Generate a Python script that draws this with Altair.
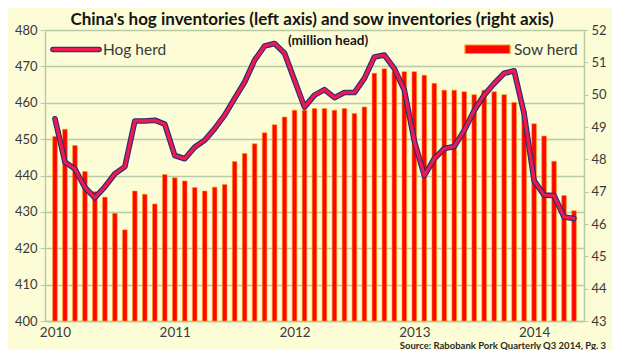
import altair as alt
import pandas as pd

years = ["2010", "2011", "2012", "2013", "2014"]

# Monthly values, Jan 2010 .. May 2014
hog = [455.6, 443.7, 441.8, 436.7, 433.9, 436.9, 440.5, 442.4, 455.0, 455.0, 455.2, 454.1,
       445.5, 444.6, 447.8, 449.7, 452.9, 456.6, 461.2, 465.7, 471.7, 475.6, 476.3, 473.6,
       466.2, 458.8, 462.1, 463.6, 461.4, 462.8, 462.8, 466.7, 472.6, 473.1, 469.4, 463.5,
       449.5, 440.0, 444.6, 447.4, 448.0, 452.4, 457.9, 462.1, 465.3, 468.1, 468.8, 457.0,
       438.6, 434.6, 434.5, 428.6, 428.2]
sow = [48.71, 48.93, 48.43, 47.62, 47.00, 46.83, 46.33, 45.82, 47.02, 46.92, 46.62, 47.53,
       47.43, 47.33, 47.13, 47.02, 47.14, 47.22, 47.93, 48.18, 48.48, 48.82, 49.07, 49.31,
       49.52, 49.52, 49.57, 49.57, 49.52, 49.57, 49.42, 49.62, 50.66, 50.80, 50.71, 50.71,
       50.71, 50.60, 50.35, 50.14, 50.14, 50.09, 50.00, 50.14, 50.09, 50.00, 49.76, 49.50,
       49.10, 48.72, 47.94, 46.88, 46.41]

n = len(hog)
months = [f"{2010 + k // 12}-{k % 12 + 1:02d}" for k in range(n)]
df = pd.DataFrame({"month": months, "pos": [k + 0.5 for k in range(n)], "hog": hog, "sow": sow})

W, H = 539, 291
FONT = "Lato"
GRID = "#b7cca6"
TXT = "#3a3a3a"
BG = "#fcfcd6"

xenc = alt.X("pos:Q", scale=alt.Scale(domain=[0, n], nice=False, zero=False),
             axis=alt.Axis(values=[0.5, 12.5, 24.5, 36.5, 48.5],
                           labelExpr="'' + (2010 + floor(datum.value / 12))",
                           grid=False, ticks=False, domainColor=GRID, domainWidth=1.5,
                           labelPadding=4, labelFontSize=13.5, labelOverlap=False, title=None))

bars = alt.Chart(df).mark_bar(width=4.6, fill="#ff0400", stroke="#ff9a00", strokeWidth=0.6).encode(
    x=xenc,
    y=alt.Y("sow:Q", scale=alt.Scale(domain=[43, 52], nice=False, zero=False),
            axis=alt.Axis(orient="right", values=list(range(43, 53)), grid=False,
                          tickSize=4, tickColor=GRID, domainColor=GRID, domainWidth=1.5,
                          labelPadding=3, labelOverlap=False, title=None)),
    y2=alt.datum(43),
)

hog_y = alt.Y("hog:Q", scale=alt.Scale(domain=[400, 480], nice=False, zero=False),
              axis=alt.Axis(orient="left", values=list(range(400, 481, 10)), grid=True,
                            gridColor=GRID, gridWidth=1.5, tickSize=5, tickColor=GRID,
                            domainColor=GRID, domainWidth=1.5, labelPadding=3,
                            labelOverlap=False, title=None))

line_out = alt.Chart(df).mark_line(color="#1f2d74", strokeWidth=5.6, strokeJoin="round",
                                   strokeCap="round").encode(x="pos:Q", y=hog_y)
line_in = alt.Chart(df).mark_line(color="#ee1a4f", strokeWidth=3.4, strokeJoin="round",
                                  strokeCap="round").encode(x="pos:Q", y=hog_y)
lines = alt.layer(line_out, line_in)

one = pd.DataFrame({"a": [0]})

def label(txt, x, y, size, weight="normal", align="left", color=TXT, baseline="middle"):
    return alt.Chart(one).mark_text(text=txt, align=align, baseline=baseline, font=FONT,
                                    fontSize=size, fontWeight=weight, color=color).encode(
        x=alt.value(x), y=alt.value(y))

title = label("China's hog inventories (left axis) and sow inventories (right axis)",
              267, -10.5, 17, "bold", "center", "#151515")
unit = label("(million head)", 283, 11, 13.5, "bold", "center", "#151515")
hog_leg_out = alt.Chart(one).mark_rule(color="#1f2d74", strokeWidth=5.6, strokeCap="round").encode(
    x=alt.value(8), x2=alt.value(54), y=alt.value(19.5))
hog_leg_in = alt.Chart(one).mark_rule(color="#ee1a4f", strokeWidth=3.4, strokeCap="round").encode(
    x=alt.value(8), x2=alt.value(54), y=alt.value(19.5))
hog_txt = label("Hog herd", 58, 19.5, 15.5)
sow_sw = alt.Chart(one).mark_rect(fill="#ff0400", stroke="#ff9a00", strokeWidth=1.2).encode(
    x=alt.value(420), x2=alt.value(465), y=alt.value(15), y2=alt.value(23.5))
sow_txt = label("Sow herd", 469, 19.5, 15.5)
source = label("Source: Rabobank Pork Quarterly Q3 2014, Pg. 3", 561, 318.5, 9.5, "bold", "right",
               "#2a2a2a", "alphabetic")

chart = alt.layer(bars, lines, title, unit, hog_leg_out, hog_leg_in, hog_txt, sow_sw, sow_txt, source
).resolve_scale(y="independent").properties(
    width=W, height=H,
    autosize=alt.AutoSizeParams(type="none"),
    padding={"left": 37, "top": 22, "right": 28, "bottom": 29},
    background=BG,
).configure_view(stroke=None, fill=BG).configure_axis(
    labelFont=FONT, labelFontSize=13, labelColor=TXT
)

chart.save("out.html", embed_options={"renderer": "svg", "actions": False})
